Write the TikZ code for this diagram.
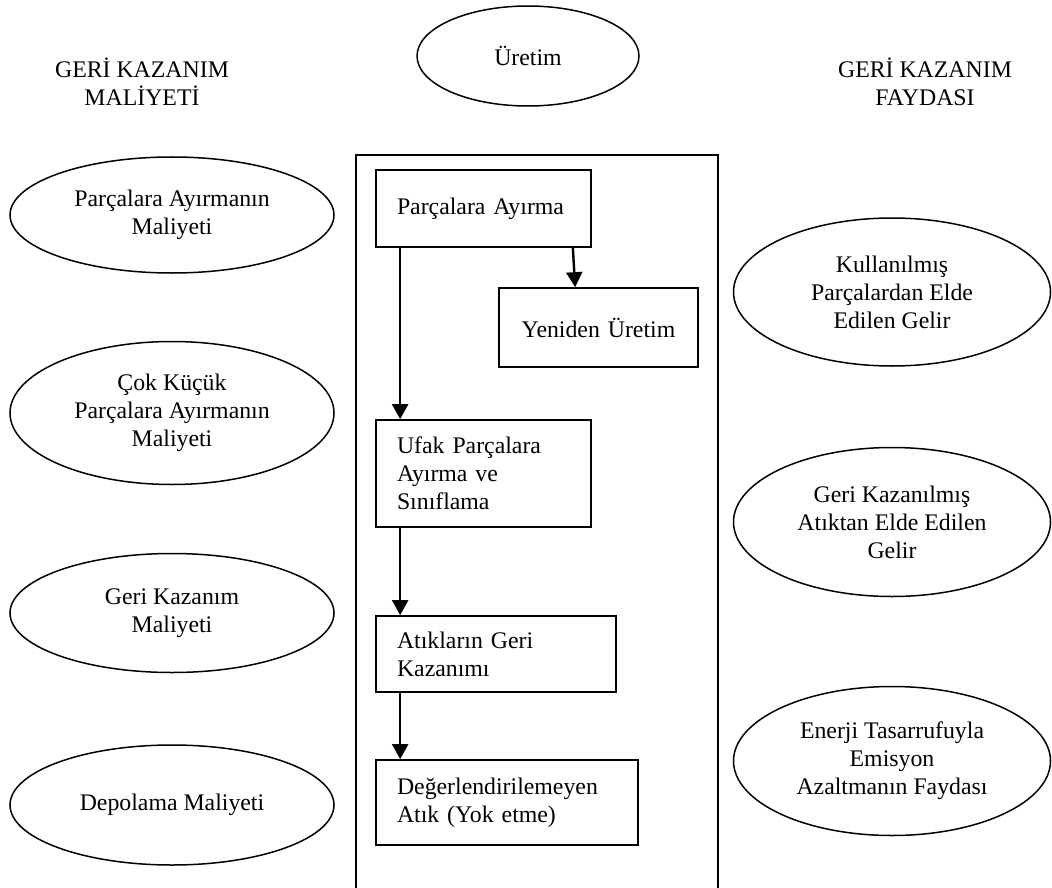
\documentclass[tikz,border=0pt]{standalone}
\usepackage{fontspec}
\setmainfont{Liberation Serif}
\usetikzlibrary{shapes.geometric,arrows.meta}

\tikzset{
  txt/.style={font=\fontsize{23.8}{28}\selectfont, align=center},
  oval/.style={txt, draw, ellipse, line width=1.5pt, inner sep=0pt},
  stepbox/.style={draw, line width=1.7pt, font=\fontsize{23.8}{28}\selectfont,
    inner xsep=21pt, inner ysep=0pt},
  flow/.style={line width=2.4pt, -{Triangle[width=16pt,length=15pt]}}
}

\begin{document}
\begin{tikzpicture}[x=1pt, y=-1pt]
\useasboundingbox (0,0) rectangle (1052,888);

% column headings
\node[txt] (hcost) at (142,82) {GERİ KAZANIM\\MALİYETİ};
\node[txt] (hgain) at (925,82) {GERİ KAZANIM\\FAYDASI};
\node[oval, minimum width=222pt, minimum height=100pt] (uretim) at (528,56) {Üretim};

% process frame (open at the bottom)
\draw[line width=1.7pt] (356,892) |- (718,155) -- (718,892);

% process steps
\node[stepbox, minimum width=215pt, minimum height=77pt, text width=173pt, align=left]
  (ayirma) at (483.5,208.5) {Parçalara Ayırma};
\node[stepbox, minimum width=199pt, minimum height=79pt, text width=157pt, align=center]
  (yeniden) at (598.5,327.5) {Yeniden Üretim};
\node[stepbox, minimum width=215pt, minimum height=107pt, text width=173pt, align=left]
  (ufak) at (483.5,473.5) {Ufak Parçalara\\Ayırma ve\\Sınıflama};
\node[stepbox, minimum width=240pt, minimum height=76pt, text width=198pt, align=left]
  (geri) at (496,654) {Atıkların Geri\\Kazanımı};
\node[stepbox, minimum width=262pt, minimum height=85pt, text width=220pt, align=left]
  (depo) at (507,802.5) {Değerlendirilemeyen\\Atık (Yok etme)};

% flow arrows
\draw[flow] ([xshift=25pt]ayirma.south west) -- ([xshift=25pt]ufak.north west);
\draw[flow] ([xshift=-19pt]ayirma.south east) -- ([xshift=77pt]yeniden.north west);
\draw[flow] ([xshift=25pt]ufak.south west) -- ([xshift=25pt]geri.north west);
\draw[flow] ([xshift=25pt]geri.south west) -- ([xshift=25pt]depo.north west);

% cost side
\node[oval, minimum width=324pt, minimum height=116pt] (c1) at (172,215) {Parçalara Ayırmanın\\Maliyeti};
\node[oval, minimum width=324pt, minimum height=143pt] (c2) at (172,413) {Çok Küçük\\Parçalara Ayırmanın\\Maliyeti};
\node[oval, minimum width=324pt, minimum height=119pt] (c3) at (172,613) {Geri Kazanım\\Maliyeti};
\node[oval, minimum width=324pt, minimum height=120pt] (c4) at (172,805) {Depolama Maliyeti};

% benefit side
\node[oval, minimum width=317pt, minimum height=148pt] (g1) at (892,292) {Kullanılmış\\Parçalardan Elde\\Edilen Gelir};
\node[oval, minimum width=317pt, minimum height=149pt] (g2) at (892,522) {Geri Kazanılmış\\Atıktan Elde Edilen\\Gelir};
\node[oval, minimum width=317pt, minimum height=149pt] (g3) at (892,761) {Enerji Tasarrufuyla\\Emisyon\\Azaltmanın Faydası};
\end{tikzpicture}
\end{document}
